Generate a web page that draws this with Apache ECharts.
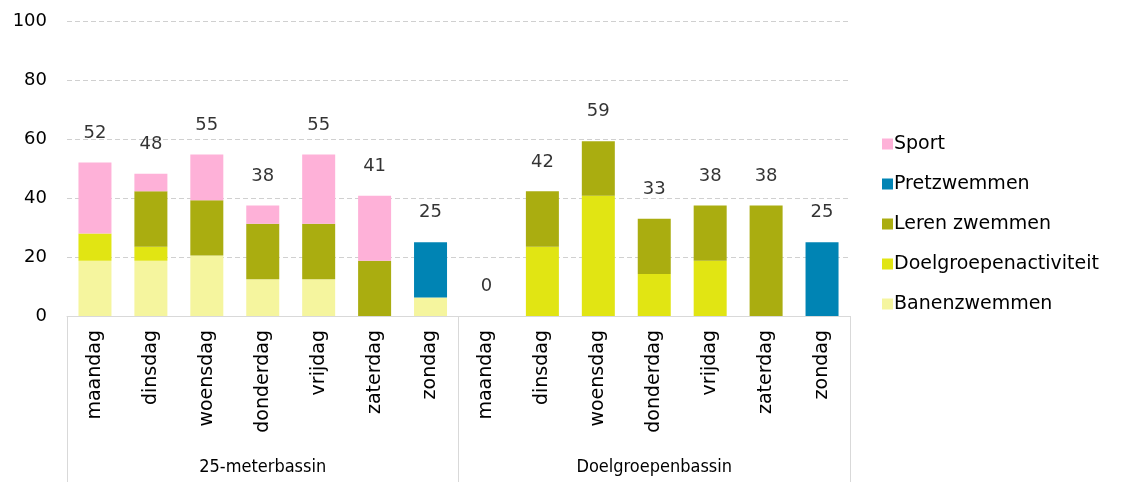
<!DOCTYPE html>
<html>
<head>
<meta charset="utf-8">
<script src="https://cdn.jsdelivr.net/npm/echarts@6/dist/echarts.min.js"></script>
<style>
  html, body { margin: 0; padding: 0; background: #fff; }
  #chart { width: 1123px; height: 482px; }
</style>
</head>
<body>
<div id="chart"></div>
<script>
var days = ['maandag', 'dinsdag', 'woensdag', 'donderdag', 'vrijdag', 'zaterdag', 'zondag',
            'maandag', 'dinsdag', 'woensdag', 'donderdag', 'vrijdag', 'zaterdag', 'zondag'];
var groups = ['25-meterbassin', 'Doelgroepenbassin'];

// stacked from bottom to top
var banen     = [18.75, 18.75, 20.5, 12.5, 12.5, 0, 6.25,   0, 0, 0, 0, 0, 0, 0];
var doelgroep = [9.25, 4.75, 0, 0, 0, 0, 0,                 0, 23.5, 40.75, 14.25, 18.75, 0, 0];
var leren     = [0, 18.75, 18.75, 18.75, 18.75, 18.75, 0,   0, 18.75, 18.5, 18.75, 18.75, 37.5, 0];
var pretz     = [0, 0, 0, 0, 0, 0, 18.75,                   0, 0, 0, 0, 0, 0, 25];
var sport     = [24, 6, 15.5, 6.25, 23.5, 22, 0,            0, 0, 0, 0, 0, 0, 0];

var totals = days.map(function (d, i) {
    return banen[i] + doelgroep[i] + leren[i] + pretz[i] + sport[i];
});

var font = 'DejaVu Sans';
var chart = echarts.init(document.getElementById('chart'));

function barSeries(name, data, color) {
    return {
        type: 'bar',
        name: name,
        stack: 'sum',
        barWidth: 33,
        data: data,
        itemStyle: { color: color },
        silent: true
    };
}

chart.setOption({
    animation: false,
    textStyle: { fontFamily: font },
    grid: { left: 67, right: 273, top: 21, bottom: 166 },
    legend: {
        orient: 'vertical',
        left: 877,
        top: 128,
        itemWidth: 11,
        itemHeight: 11,
        itemGap: 18,
        icon: 'rect',
        data: ['Sport', 'Pretzwemmen', 'Leren zwemmen', 'Doelgroepenactiviteit', 'Banenzwemmen'],
        textStyle: { fontFamily: font, fontSize: 19, color: '#000', lineHeight: 22, padding: [0, 0, 0, -4] }
    },
    xAxis: [{
        type: 'category',
        data: days,
        axisLine: { show: true, lineStyle: { color: '#d9d9d9' } },
        axisTick: { show: false },
        axisLabel: { rotate: 90, margin: 14, fontSize: 19, color: '#000', fontFamily: font, interval: 0 }
    }, {
        type: 'category',
        data: groups,
        position: 'bottom',
        axisLine: { show: false },
        axisTick: { show: true, length: 170, interval: 0, lineStyle: { color: '#d9d9d9' } },
        axisLabel: { margin: 142, fontSize: 18, color: '#000', interval: 0,
                     fontFamily: '"Liberation Sans Narrow", "DejaVu Sans Condensed", sans-serif' }
    }],
    yAxis: {
        type: 'value',
        min: 0,
        max: 100,
        interval: 20,
        axisLine: { show: false },
        axisTick: { show: false },
        axisLabel: { margin: 20, fontSize: 18, color: '#000', fontFamily: font },
        splitLine: { lineStyle: { color: '#d0d0d0', type: [5, 3] } }
    },
    series: [
        barSeries('Banenzwemmen', banen, '#f5f59e'),
        barSeries('Doelgroepenactiviteit', doelgroep, '#e1e513'),
        barSeries('Leren zwemmen', leren, '#aaad10'),
        barSeries('Pretzwemmen', pretz, '#0084b4'),
        barSeries('Sport', sport, '#feb1d8'),
        {
            type: 'scatter',
            name: 'totaal',
            data: totals,
            symbolSize: 1,
            itemStyle: { color: 'rgba(0,0,0,0)' },
            silent: true,
            label: {
                show: true,
                position: 'top',
                distance: 20,
                fontSize: 18,
                color: '#000',
                fontFamily: font,
                formatter: function (p) { return Math.round(p.value); }
            }
        }
    ]
});
</script>
</body>
</html>
